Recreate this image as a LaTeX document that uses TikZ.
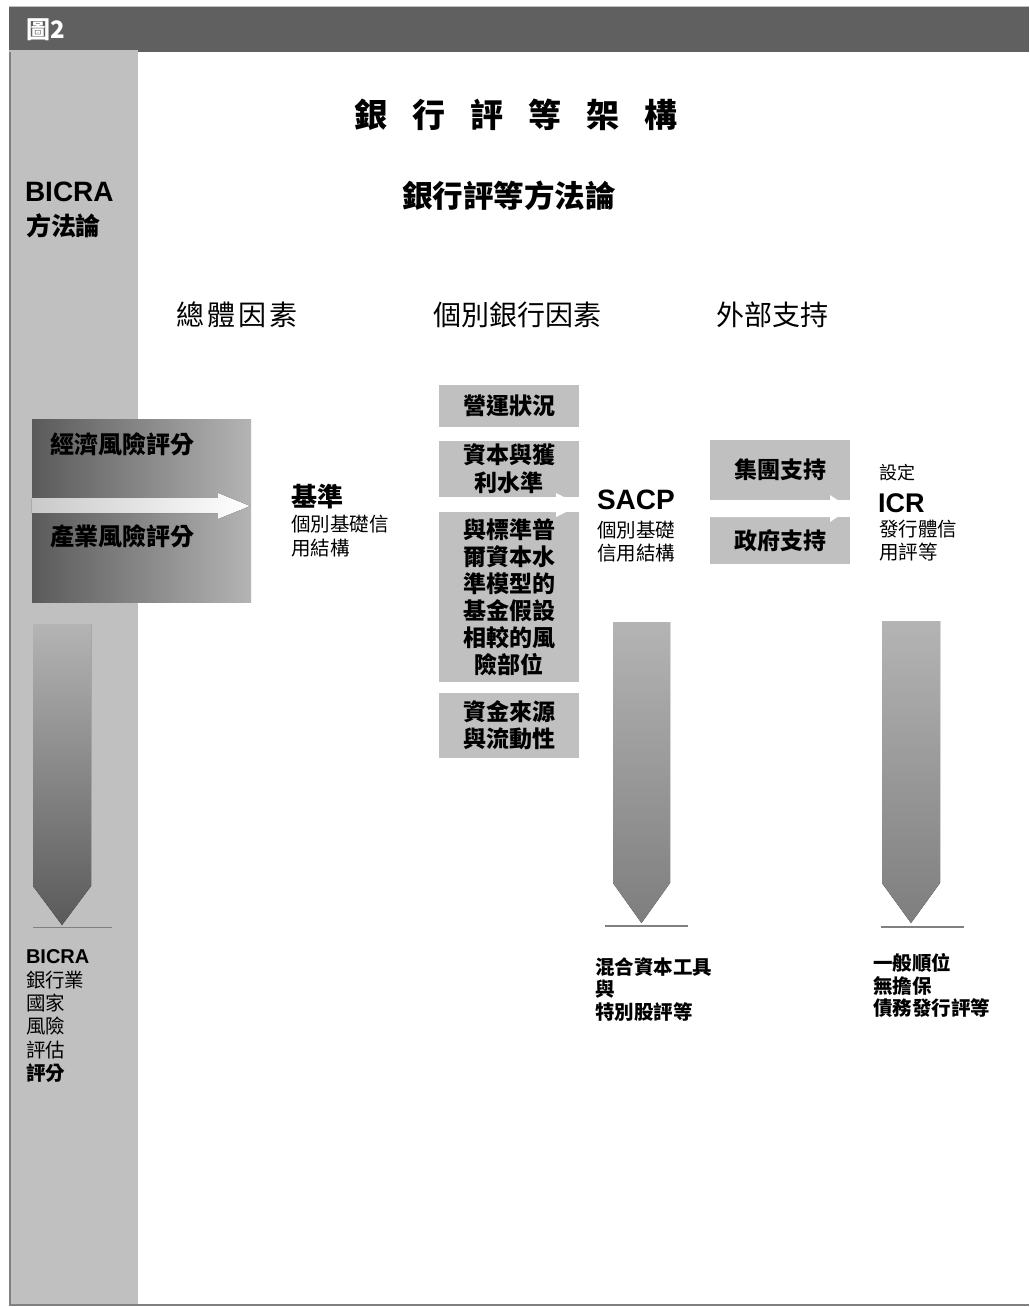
\documentclass[tikz,border=0pt]{standalone}
\usepackage{fontspec}
\setmainfont{Noto Sans CJK TC}
\newfontfamily\arialf{Liberation Sans}
\definecolor{hdr}{HTML}{606060}
\definecolor{side}{HTML}{C0C0C0}
\definecolor{frame}{HTML}{808080}
\definecolor{gdark}{HTML}{5A5A5A}
\definecolor{glight}{HTML}{B4B4B4}
\definecolor{amid}{HTML}{7E7E7E}
\newcommand{\fs}[2]{\fontsize{#1}{#2}\selectfont}
\begin{document}
\begin{tikzpicture}[x=1pt,y=-1pt,
  txt/.style={inner sep=0pt, outer sep=0pt},
  lbl/.style={txt, anchor=west, align=left},
  greybox/.style={fill=side, draw=none, minimum width=140pt, inner sep=0pt, align=center, font=\bfseries\fs{23}{28}},
  whitearrow/.style={fill=white, draw=none},
  baseline line/.style={draw=frame, line width=1.5pt},
]
\useasboundingbox (0,0) rectangle (1029,1307);
\fill[white] (0,0) rectangle (1029,1307);
% header and sidebar
\fill[hdr] (9,6) rectangle (1029,52);
\draw[side, line width=1pt] (9,6.5) -- (1029,6.5);
\fill[side] (9,50) rectangle (138,1305);
\draw[frame, line width=1.5pt] (9.75,52) -- (9.75,1304.75) -- (1029,1304.75);
\node[lbl, text=white, font=\bfseries\fs{24}{24}] (fig) at (27,30) {圖2};

% titles
\node[txt, font=\bfseries\fs{33}{33}] (title) at (516,115) {銀\hspace{25pt}行\hspace{25pt}評\hspace{25pt}等\hspace{25pt}架\hspace{25pt}構};
\node[txt, font=\bfseries\fs{30.5}{30}] (subtitle) at (509,196) {銀行評等方法論};
\node[lbl, font=\arialf\bfseries\fs{28}{28}] (bicraTop) at (25,192) {BICRA};
\node[lbl, font=\bfseries\fs{25}{25}] (methTop) at (26,226) {方法論};

% column heads
\node[txt, font=\fs{28}{28}] (colA) at (237,315) {總\hspace{3pt}體\hspace{3pt}因\hspace{3pt}素};
\node[txt, font=\fs{28}{28}] (colB) at (517,315) {個別銀行因素};
\node[txt, font=\fs{28}{28}] (colC) at (772,315) {外部支持};

% macro box
\node[left color=gdark, right color=glight, minimum width=219pt, minimum height=183pt, inner sep=0pt] (macro) at (141.5,510.5) {};
\node[lbl, font=\bfseries\fs{24}{24}] (econ) at (50,444) {經濟風險評分};
\node[lbl, font=\bfseries\fs{24}{24}] (ind) at (50,536) {產業風險評分};
\fill[left color=side!85, right color=white] (macro.west |- 0,498) -- (218,498) -- (218,493) -- (250,506) -- (218,519) -- (218,513) -- (macro.west |- 0,513) -- cycle;

% anchor label
\node[lbl, font=\bfseries\fs{26}{26}] (anchorT) at (291,497) {基準};
\node[lbl, font=\fs{19.5}{24}] (anchorS) at (291,536) {個別基礎信\\用結構};

% bank specific boxes
\node[greybox, minimum height=42pt] (ops) at (509,406) {營運狀況};
\node[greybox, minimum height=56pt] (cap) at (509,469) {資本與獲\\利水準};
\node[greybox, minimum height=170pt, font=\bfseries\fs{23}{27}] (risk) at (509,597) {與標準普\\爾資本水\\準模型的\\基金假設\\相較的風\\險部位};
\node[greybox, minimum height=65pt, font=\bfseries\fs{23}{27}] (fund) at (509,725.5) {資金來源\\與流動性};
\fill[whitearrow] (cap.south west) ++(0,1) -- (556,498) -- (556,493) -- (580,505) -- (556,517) -- (556,512) -- (risk.north west) -- cycle;

% SACP label
\node[lbl, font=\arialf\bfseries\fs{28}{28}] (sacpT) at (597,500) {SACP};
\node[lbl, font=\fs{19.5}{23}] (sacpS) at (597,542) {個別基礎\\信用結構};

% support boxes
\node[greybox, minimum height=60pt] (grp) at (780,470) {集團支持};
\node[greybox, minimum height=47pt] (gov) at (780,540.5) {政府支持};
\fill[whitearrow] (710,500) -- (830,500) -- (830,495) -- (850,508.5) -- (830,522) -- (830,517) -- (710,517) -- cycle;

% ICR label
\node[lbl, font=\fs{18}{18}] (icrPre) at (879,473) {設定};
\node[lbl, font=\arialf\bfseries\fs{27}{27}] (icrT) at (878,503) {ICR};
\node[lbl, font=\fs{19.5}{23}] (icrS) at (879,541) {發行體信\\用評等};

% down arrows
\fill[top color=glight, bottom color=gdark] (33,624) -- (91,624) -- (91,886) -- (62,925) -- (33,886) -- cycle;
\draw[baseline line] (33,927.5) -- (112,927.5);
\fill[top color=glight, bottom color=amid] (613,622) -- (670,622) -- (670,883) -- (641.5,923) -- (613,883) -- cycle;
\draw[baseline line] (605,926) -- (688,926);
\fill[top color=glight, bottom color=amid] (882,621) -- (940,621) -- (940,883) -- (911,923) -- (882,883) -- cycle;
\draw[baseline line] (881,927) -- (964,927);

% bottom texts
\node[lbl, font=\arialf\bfseries\fs{20}{20}] (bicraB) at (26,957) {BICRA};
\node[lbl, font=\fs{19.5}{23.3}] (bicraS) at (26,1026.5) {銀行業\\國家\\風險\\評估\\\textbf{評分}};
\node[lbl, font=\bfseries\fs{19.5}{22.5}] (hybrid) at (595,989.5) {混合資本工具\\與\\特別股評等};
\node[lbl, font=\bfseries\fs{19.5}{22.5}] (senior) at (873,985.5) {一般順位\\無擔保\\債務發行評等};
\end{tikzpicture}
\end{document}
